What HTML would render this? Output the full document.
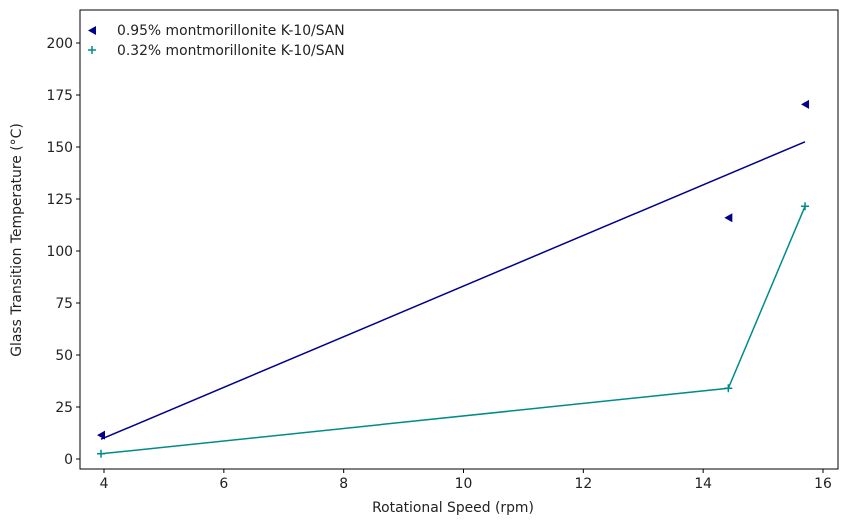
<!DOCTYPE html>
<html><head><meta charset="utf-8"><style>
body{margin:0;background:#fff;font-family:"Liberation Sans","DejaVu Sans",sans-serif}
svg text{font-family:"DejaVu Sans","Liberation Sans",sans-serif;font-size:13.9px;fill:#222}
</style></head><body>
<svg id="chart" width="850" height="525">
<rect x="0" y="0" width="850" height="525" fill="#fff"/>
<g id="g"></g>
</svg>
<script>
const xTicks=[4,6,8,10,12,14,16];
const yTicks=[0,25,50,75,100,125,150,175,200];
const speeds=[3.95,14.42,15.7];
const tg095=[11.5,116,170.5];
const tg032=[2.5,34,121.5];
const fit095=[9.5,152.5];
const fitX=[3.95,15.7];
const L=80,R=838,T=10,B=469;
const sx=v=>104+(v-4)*(823-104)/12;
const sy=v=>459-v*(459-43)/200;
const NS='http://www.w3.org/2000/svg';
const g=document.getElementById('g');
function mk(t,a,p){const e=document.createElementNS(NS,t);for(const k in a)e.setAttribute(k,a[k]);(p||g).appendChild(e);return e;}
xTicks.forEach(v=>{
 const l=mk('line',{x1:sx(v),x2:sx(v),y1:B,y2:B+4,stroke:'#000'});
 
 
 const t=mk('text',{x:sx(v),y:B+19,'text-anchor':'middle'});t.textContent=v;
 
 
});
yTicks.forEach(v=>{
 const l=mk('line',{x1:L-4,x2:L,y1:sy(v),y2:sy(v),stroke:'#000'});
 
 
 const t=mk('text',{x:L-7,y:sy(v)+5,'text-anchor':'end'});t.textContent=v;
 
 
});
const l1=mk('polyline',{points:fitX.map((x,i)=>sx(x)+','+sy(fit095[i])).join(' '),fill:'none',stroke:'#00008b','stroke-width':1.5});


const l2=mk('polyline',{points:speeds.map((x,i)=>sx(x)+','+sy(tg032[i])).join(' '),fill:'none',stroke:'#008b8b','stroke-width':1.5});


speeds.forEach((x,i)=>{
 const px=sx(x),py=sy(tg095[i]);
 const m=mk('polygon',{points:`${px-4},${py} ${px+4},${py-4.5} ${px+4},${py+4.5}`,fill:'#00008b'});
 
 
 const qx=sx(x),qy=sy(tg032[i]);
 const p=mk('path',{d:`M${qx-4},${qy}H${qx+4}M${qx},${qy-4}V${qy+4}`,stroke:'#008b8b','stroke-width':1.5});
 
 
});
const fr=mk('rect',{x:L,y:T,width:R-L,height:B-T,fill:'none',stroke:'#000','stroke-width':1});


</script>
<svg style="position:absolute;left:0;top:0" width="850" height="525">
<g>
<polygon points="88,30.5 96,26 96,35" fill="#00008b"/>
<text x="117" y="35">0.95% montmorillonite K-10/SAN</text>
<path d="M88,50H96M92,46V54" stroke="#008b8b" stroke-width="1.5"/>
<text x="117" y="55">0.32% montmorillonite K-10/SAN</text>
</g>
<text x="453" y="512" text-anchor="middle">Rotational Speed (rpm)</text>
<text transform="translate(21,240) rotate(-90)" text-anchor="middle">Glass Transition Temperature (°C)</text>
</svg>
</body></html>
